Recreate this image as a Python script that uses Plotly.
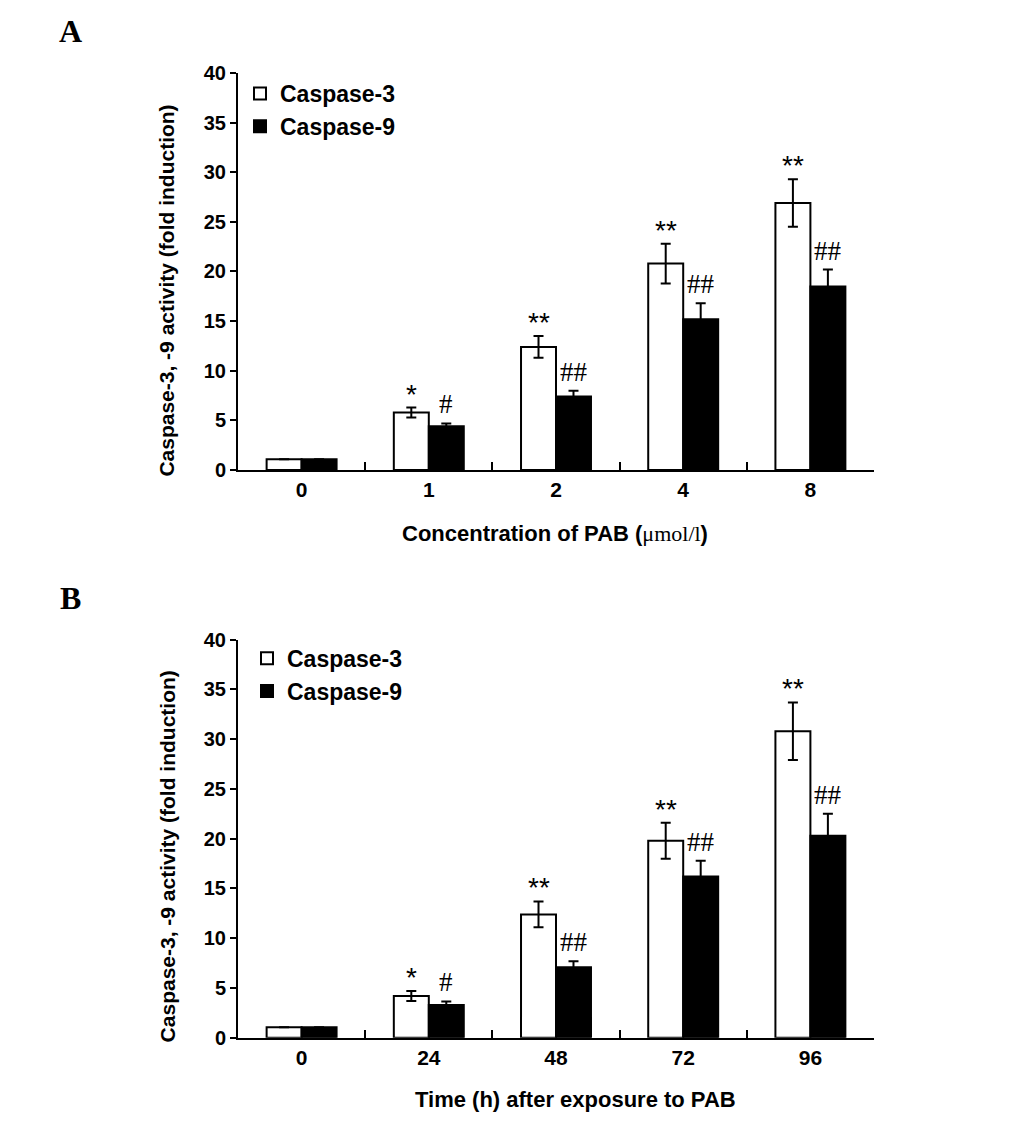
import plotly.graph_objects as go

# Panel A: concentration of PAB
conc_labels = ["0", "1", "2", "4", "8"]
conc_casp3 = [1.1, 5.8, 12.4, 20.8, 26.9]
conc_casp3_err = [0.0, 0.5, 1.1, 2.0, 2.4]
conc_casp9 = [1.1, 4.4, 7.4, 15.2, 18.5]
conc_casp9_err = [0.0, 0.3, 0.6, 1.6, 1.7]
conc_casp3_sig = ["", "*", "**", "**", "**"]
conc_casp9_sig = ["", "#", "##", "##", "##"]

# Panel B: time after exposure
time_labels = ["0", "24", "48", "72", "96"]
time_casp3 = [1.05, 4.2, 12.4, 19.8, 30.8]
time_casp3_err = [0.0, 0.5, 1.3, 1.8, 2.9]
time_casp9 = [1.05, 3.3, 7.1, 16.2, 20.3]
time_casp9_err = [0.0, 0.35, 0.6, 1.6, 2.2]
time_casp3_sig = ["", "*", "**", "**", "**"]
time_casp9_sig = ["", "#", "##", "##", "##"]

W, H = 1033, 1131
PAGE_OFFSET = 8  # the page body margin shifts the figure
SANS = "Liberation Sans, Arial, sans-serif"
SERIF = "Liberation Serif, Times New Roman, serif"
BAR_SHIFT = 17.5  # px from category centre to each bar centre


def px(x):
    return (x - PAGE_OFFSET) / W


def py(y):
    return 1 - (y - PAGE_OFFSET) / H


fig = go.Figure()


def add_panel(labels, c3, c3e, c9, c9e, s3, s9, xa, ya, legend):
    fig.add_trace(go.Bar(
        x=labels, y=c3, name="Caspase-3",
        marker=dict(color="white", line=dict(color="black", width=2)),
        error_y=dict(type="data", array=c3e, color="black", thickness=2, width=5),
        xaxis=xa, yaxis=ya, legend=legend,
    ))
    fig.add_trace(go.Bar(
        x=labels, y=c9, name="Caspase-9",
        marker=dict(color="black", line=dict(color="black", width=2)),
        error_y=dict(type="data", array=c9e, color="black", thickness=2, width=5),
        xaxis=xa, yaxis=ya, legend=legend,
    ))
    # significance marks, placed by category index on the category axis
    for i, (v, e, s) in enumerate(zip(c3, c3e, s3)):
        if s:
            fig.add_annotation(x=i, y=v + e, text=s, showarrow=False,
                               xref=xa, yref=ya, xshift=-BAR_SHIFT, xanchor="center",
                               yanchor="bottom", yshift=-4,
                               font=dict(family=SANS, size=28, color="black"))
    for i, (v, e, s) in enumerate(zip(c9, c9e, s9)):
        if s:
            fig.add_annotation(x=i, y=v + e, text=s, showarrow=False,
                               xref=xa, yref=ya, xshift=BAR_SHIFT, xanchor="center",
                               yanchor="bottom", yshift=2,
                               font=dict(family=SERIF, size=27, color="black"))


add_panel(conc_labels, conc_casp3, conc_casp3_err, conc_casp9, conc_casp9_err,
          conc_casp3_sig, conc_casp9_sig, "x", "y", "legend")
add_panel(time_labels, time_casp3, time_casp3_err, time_casp9, time_casp9_err,
          time_casp3_sig, time_casp9_sig, "x2", "y2", "legend2")

xdom = [px(238), px(874)]
ydomA = [py(468), py(63)]
ydomB = [py(1047), py(641)]

xcommon = dict(type="category", range=[-0.5, 4.5], showline=True, linecolor="black", linewidth=2,
               ticks="inside", tickson="boundaries", ticklen=8, tickwidth=2, tickcolor="black",
               tickfont=dict(family=SANS, size=21, color="black", weight="bold"),
               showgrid=False, zeroline=False)
ycommon = dict(range=[0, 40], tickvals=list(range(0, 41, 5)), showline=True,
               linecolor="black", linewidth=2, ticks="outside", ticklen=6, tickwidth=2,
               tickcolor="black", tickfont=dict(family=SANS, size=20, color="black", weight="bold"),
               showgrid=False, zeroline=False)

legcommon = dict(font=dict(family=SANS, size=23, color="black", weight="bold"),
                 bgcolor="rgba(0,0,0,0)", xanchor="left", yanchor="top", tracegroupgap=0)

fig.update_layout(
    width=W, height=H,
    margin=dict(l=0, r=0, t=0, b=0),
    paper_bgcolor="white", plot_bgcolor="white",
    barmode="group", bargap=0.45, bargroupgap=0,
    xaxis=dict(domain=xdom, anchor="y", **xcommon),
    yaxis=dict(domain=ydomA, anchor="x", **ycommon),
    xaxis2=dict(domain=xdom, anchor="y2", **xcommon),
    yaxis2=dict(domain=ydomB, anchor="x2", **ycommon),
    legend=dict(x=px(240), y=py(62), **legcommon),
    legend2=dict(x=px(247), y=py(638), **legcommon),
    showlegend=True,
)

mid = dict(xref="paper", yref="paper", xanchor="center", yanchor="middle", showarrow=False)

# Panel letters
fig.add_annotation(x=px(70), y=py(20), text="<b>A</b>",
                   font=dict(family=SERIF, size=32, color="black"), **mid)
fig.add_annotation(x=px(70), y=py(598), text="<b>B</b>",
                   font=dict(family=SERIF, size=32, color="black"), **mid)

# Axis titles
ytitle = "<b>Caspase-3, -9 activity (fold induction)</b>"
fig.add_annotation(x=px(167), y=py(285), text=ytitle, textangle=-90,
                   font=dict(family=SANS, size=21, color="black"), **mid)
fig.add_annotation(x=px(167), y=py(862), text=ytitle, textangle=-90,
                   font=dict(family=SANS, size=21, color="black"), **mid)
fig.add_annotation(x=px(555), y=py(533),
                   text="<b>Concentration of PAB (</b><span style='font-family:Liberation Serif'>μmol/l</span><b>)</b>",
                   font=dict(family=SANS, size=22, color="black"), **mid)
fig.add_annotation(x=px(575), y=py(1110), text="<b>Time (h) after exposure to PAB</b>",
                   font=dict(family=SANS, size=22, color="black"), **mid)

fig.write_html("out.html")
